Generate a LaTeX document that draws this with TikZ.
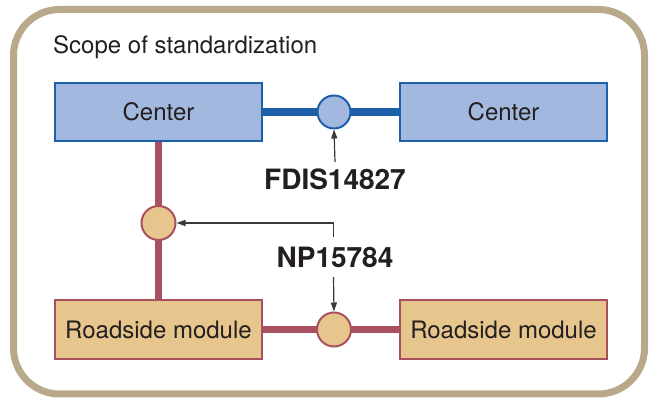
\documentclass[tikz,border=0pt]{standalone}
\usepackage{fontspec}
\setmainfont{TeX Gyre Heros}
\usetikzlibrary{arrows.meta,backgrounds}
\definecolor{frametan}{HTML}{B8A98A}
\definecolor{bluestroke}{HTML}{1E5FAA}
\definecolor{bluefill}{HTML}{A3B8DF}
\definecolor{redstroke}{HTML}{A9505E}
\definecolor{tanfill}{HTML}{E6C68C}
\definecolor{ink}{HTML}{231F20}
\definecolor{arrowgray}{HTML}{3A3A3A}
\tikzset{
  x=1pt,y=1pt,
  every node/.style={text=ink},
  centerbox/.style={draw=bluestroke,fill=bluefill,line width=2pt,minimum width=207pt,minimum height=58pt,inner sep=0pt,font=\fontsize{24}{28}\selectfont},
  roadbox/.style={draw=redstroke,fill=tanfill,line width=2pt,minimum width=207pt,minimum height=59pt,inner sep=0pt,font=\fontsize{24}{28}\selectfont},
  bluedot/.style={circle,draw=bluestroke,fill=bluefill,line width=2pt,minimum size=33pt,inner sep=0pt},
  reddot/.style={circle,draw=redstroke,fill=tanfill,line width=2pt,minimum size=34pt,inner sep=0pt},
  stdlabel/.style={font=\fontsize{28}{32}\selectfont\bfseries,inner sep=0pt,text height=20pt,text depth=0pt},
  bluelink/.style={draw=bluestroke,line width=7.5pt},
  redlink/.style={draw=redstroke,line width=7.5pt},
  pointer/.style={draw=arrowgray,line width=1.2pt,-{Triangle[length=9pt,width=6pt]}},
}
\begin{document}
\begin{tikzpicture}
\useasboundingbox (0,0) rectangle (655,398);
\node[centerbox] (cl) at (158.5,286) {Center};
\node[centerbox] (cr) at (503.5,286) {Center};
\node[roadbox] (rl) at (158.5,68.5) {Roadside module};
\node[roadbox] (rr) at (503.5,68.5) {Roadside module};
\node[bluedot] (bc) at (334,286) {};
\node[reddot] (lc) at (158.5,175) {};
\node[reddot] (rc) at (334,68.5) {};
\node[anchor=base west,inner sep=0pt,font=\fontsize{24}{28}\selectfont] (title) at (53,344) {Scope of standardization};
\node[stdlabel] (fdis) at (335,218) {FDIS14827};
\node[stdlabel] (np) at (335,140) {NP15784};
\begin{scope}[on background layer]
  \draw[frametan,line width=7pt,rounded corners=46pt] (13.5,388.5) rectangle (644.5,4);
  \draw[bluelink] (cl.center) -- (cr.center);
  \draw[redlink] (cl.center) -- (rl.center);
  \draw[redlink] (rl.center) -- (rr.center);
\end{scope}
\draw[pointer] ([yshift=8pt]fdis.north) -- (bc.south);
\draw[pointer] ([xshift=-1.5pt,yshift=11pt]np.north) |- (lc.east);
\draw[pointer] ([xshift=-1.5pt,yshift=-9pt]np.south) -- (rc.north);
\end{tikzpicture}
\end{document}
